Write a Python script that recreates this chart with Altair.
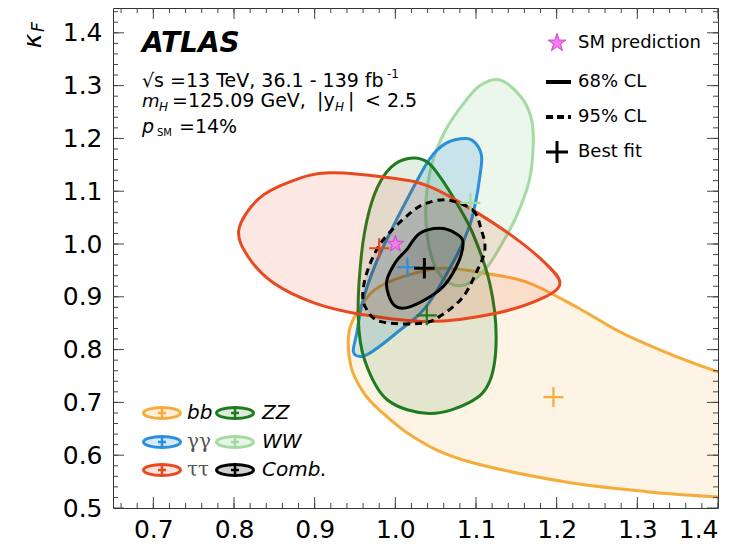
import altair as alt
import pandas as pd

# ---------------- data ----------------
X_MAJOR = [0.7, 0.8, 0.9, 1.0, 1.1, 1.2, 1.3, 1.4]
Y_MAJOR = [0.5, 0.6, 0.7, 0.8, 0.9, 1.0, 1.1, 1.2, 1.3, 1.4]
X_MINOR = [round(0.66 + 0.02 * i, 2) for i in range(38)]
Y_MINOR = [round(0.52 + 0.02 * i, 2) for i in range(47)]

# contour points (kappa_V, kappa_F)
BB_X = [1.40, 1.291, 1.229, 1.166, 1.113, 1.063, 1.022, 0.980, 0.960, 0.943, 0.945, 0.960, 0.980, 1.022, 1.084, 1.208, 1.311, 1.40, 1.50, 1.60, 1.50]
BB_Y = [0.758, 0.824, 0.877, 0.926, 0.944, 0.954, 0.944, 0.919, 0.888, 0.837, 0.768, 0.720, 0.686, 0.635, 0.591, 0.550, 0.531, 0.521, 0.513, 0.60, 0.72]

WW_X = [1.129, 1.155, 1.168, 1.171, 1.166, 1.150, 1.130, 1.113, 1.090, 1.068, 1.050, 1.040, 1.038, 1.045, 1.062, 1.084, 1.105]
WW_Y = [1.311, 1.280, 1.241, 1.191, 1.120, 1.052, 0.995, 0.955, 0.925, 0.925, 0.955, 1.010, 1.080, 1.150, 1.215, 1.265, 1.300]

GG_X = [1.088, 1.100, 1.107, 1.104, 1.100, 1.092, 1.075, 1.038, 1.001, 0.972, 0.958, 0.948, 0.952, 0.960, 0.975, 0.993, 1.014, 1.042, 1.063]
GG_Y = [1.200, 1.190, 1.165, 1.120, 1.083, 1.034, 0.975, 0.881, 0.831, 0.797, 0.787, 0.796, 0.830, 0.894, 0.960, 1.020, 1.083, 1.160, 1.191]

ZZ_X = [1.022, 1.040, 1.055, 1.075, 1.096, 1.117, 1.125, 1.117, 1.092, 1.042, 0.990, 0.962, 0.954, 0.958, 0.968, 0.982, 1.000]
ZZ_Y = [1.163, 1.155, 1.128, 1.080, 1.020, 0.926, 0.824, 0.740, 0.700, 0.679, 0.705, 0.780, 0.862, 0.980, 1.065, 1.120, 1.152]

TT_X = [0.806, 0.830, 0.870, 0.918, 1.000, 1.042, 1.092, 1.146, 1.185, 1.204, 1.183, 1.125, 1.042, 0.960, 0.900, 0.850, 0.818]
TT_Y = [1.027, 1.085, 1.118, 1.135, 1.124, 1.109, 1.068, 1.014, 0.965, 0.926, 0.898, 0.869, 0.853, 0.866, 0.888, 0.925, 0.975]

C95_X = [1.067, 1.096, 1.106, 1.111, 1.100, 1.084, 1.060, 1.034, 0.982, 0.963, 0.960, 0.968, 0.985, 1.018, 1.040]
C95_Y = [1.083, 1.064, 1.030, 0.989, 0.945, 0.900, 0.868, 0.850, 0.853, 0.880, 0.913, 0.960, 1.008, 1.058, 1.078]

C68_X = [1.055, 1.075, 1.084, 1.075, 1.055, 1.018, 0.998, 0.989, 1.000, 1.014, 1.030]
C68_Y = [1.030, 1.020, 1.001, 0.955, 0.913, 0.881, 0.885, 0.926, 0.965, 0.989, 1.020]

# best-fit points
BF_NAMES = ["bb", "WW", "gg", "ZZ", "tt", "comb"]
BF_X = [1.196, 1.093, 1.015, 1.039, 0.980, 1.036]
BF_Y = [0.710, 1.078, 0.956, 0.865, 0.992, 0.954]
SM_X = [1.0]
SM_Y = [1.0]

# ---------------- styles ----------------
C_BB = "#F5AC3A"
C_WW = "#A3DBA3"
C_GG = "#2B8FDB"
C_ZZ = "#1E7B1E"
C_TT = "#E8491E"
C_CB = "#000000"
FONT = "DejaVu Sans"
STAR = ("M0,-1L0.225,-0.309L0.951,-0.309L0.363,0.118L0.588,0.809L0,0.382"
        "L-0.588,0.809L-0.363,0.118L-0.951,-0.309L-0.225,-0.309Z")
PLUS = "M-1,0L1,0M0,-1L0,1"
ELL = "M-1,0A1,0.3,0,1,0,1,0A1,0.3,0,1,0,-1,0Z"

W, H = 605, 500
XS = alt.Scale(domain=[0.65, 1.40], nice=False, zero=False)
YS = alt.Scale(domain=[0.5, 1.447], nice=False, zero=False)
X_AX = alt.Axis(values=X_MAJOR, format=".1f", ticks=False, domain=False, grid=False,
                labelFontSize=25, labelFont=FONT, labelColor="black", labelPadding=9, title=None)
Y_AX = alt.Axis(values=Y_MAJOR, format=".1f", ticks=False, domain=False, grid=False,
                labelFontSize=25, labelFont=FONT, labelColor="black", labelPadding=11, title=None)


def ex(f):
    return alt.X(f, scale=XS, axis=X_AX)


def ey(f):
    return alt.Y(f, scale=YS, axis=Y_AX)


layers = []


def contour(xs, ys, stroke, fill, fo, sw, dash=None):
    df = pd.DataFrame({"x": xs, "y": ys, "i": list(range(len(xs)))})
    kw = dict(interpolate="cardinal-closed", stroke=stroke, strokeWidth=sw, fill=fill,
              fillOpacity=fo, clip=True)
    if dash:
        kw["strokeDash"] = dash
    return alt.Chart(df).mark_line(**kw).encode(x=ex("x:Q"), y=ey("y:Q"), order="i:Q")


layers.append(contour(BB_X, BB_Y, C_BB, C_BB, 0.13, 3))
layers.append(contour(WW_X, WW_Y, C_WW, C_WW, 0.22, 3))
layers.append(contour(GG_X, GG_Y, C_GG, C_GG, 0.18, 3))
layers.append(contour(ZZ_X, ZZ_Y, C_ZZ, C_ZZ, 0.12, 3))
layers.append(contour(TT_X, TT_Y, C_TT, C_TT, 0.13, 3))
layers.append(contour(C95_X, C95_Y, C_CB, C_CB, 0.10, 3, [7, 5]))
layers.append(contour(C68_X, C68_Y, C_CB, C_CB, 0.14, 3))

bf_colors = {"bb": C_BB, "WW": C_WW, "gg": C_GG, "ZZ": C_ZZ, "tt": C_TT, "comb": C_CB}
for n, bx, by in zip(BF_NAMES, BF_X, BF_Y):
    df = pd.DataFrame({"x": [bx], "y": [by]})
    layers.append(
        alt.Chart(df).mark_point(shape=PLUS, filled=False, size=400 if n != "comb" else 420,
                                 stroke=bf_colors[n], strokeWidth=3 if n == "comb" else 2.2,
                                 opacity=1).encode(x=ex("x:Q"), y=ey("y:Q"))
    )

sm_df = pd.DataFrame({"x": SM_X, "y": SM_Y})
layers.append(
    alt.Chart(sm_df).mark_point(shape=STAR, filled=True, size=300, fill="#F07CF0",
                                stroke="#D63FD6", strokeWidth=1, opacity=1).encode(
        x=ex("x:Q"), y=ey("y:Q"))
)

# frame ticks
MAJ, MIN = 11, 5


def ticks(vals, length, side):
    df = pd.DataFrame({"v": vals})
    m = alt.Chart(df).mark_rule(color="#444", strokeWidth=1)
    if side == "bottom":
        return m.encode(x=ex("v:Q"), y=alt.value(H), y2=alt.value(H - length))
    if side == "top":
        return m.encode(x=ex("v:Q"), y=alt.value(0), y2=alt.value(length))
    if side == "left":
        return m.encode(y=ey("v:Q"), x=alt.value(0), x2=alt.value(length))
    return m.encode(y=ey("v:Q"), x=alt.value(W), x2=alt.value(W - length))


for side in ["bottom", "top"]:
    layers.append(ticks(X_MAJOR, MAJ, side))
    layers.append(ticks(X_MINOR, MIN, side))
for side in ["left", "right"]:
    layers.append(ticks(Y_MAJOR, MAJ, side))
    layers.append(ticks(Y_MINOR, MIN, side))


def txt(s, x, y, size=18, style="normal", weight="normal", font=FONT, align="left",
        baseline="alphabetic", color="black", angle=0):
    df = pd.DataFrame({"t": [s]})
    return alt.Chart(df).mark_text(align=align, baseline=baseline, fontSize=size, fontStyle=style,
                                   fontWeight=weight, font=font, color=color, angle=angle).encode(
        x=alt.value(x), y=alt.value(y), text="t:N")


# y title kappa_F
layers.append(txt("κ", -80, 33, size=25, style="italic", align="center", baseline="middle", angle=270))
layers.append(txt("F", -74, 19, size=17, style="italic", align="center", baseline="middle", angle=270))

# ATLAS label block
layers.append(txt("ATLAS", 29, 44, size=28, style="italic", weight="bold"))
layers.append(txt("√s =13 TeV, 36.1 - 139 fb", 29, 79, size=19))
layers.append(txt("-1", 274, 70, size=12))
layers.append(txt("m", 29, 99, size=18, style="italic"))
layers.append(txt("H", 46, 103, size=12, style="italic"))
layers.append(txt("=125.09 GeV,", 59, 99, size=19))
layers.append(txt("|y", 204, 99, size=19))
layers.append(txt("H", 222, 103, size=12, style="italic"))
layers.append(txt("|", 235, 99, size=19))
layers.append(txt("< 2.5", 252, 99, size=19))
layers.append(txt("p", 29, 125, size=19, style="italic"))
layers.append(txt("SM", 44, 128, size=10))
layers.append(txt("=14%", 66, 125, size=19))

# top-right legend
one = pd.DataFrame({"t": [0]})
layers.append(
    alt.Chart(one).mark_point(shape=STAR, filled=True, size=360, fill="#F07CF0",
                              stroke="#D63FD6", strokeWidth=1, opacity=1).encode(
        x=alt.value(444), y=alt.value(35))
)
layers.append(txt("SM prediction", 465, 35, baseline="middle"))
layers.append(
    alt.Chart(one).mark_rule(color="black", strokeWidth=4).encode(
        x=alt.value(433), x2=alt.value(458), y=alt.value(74))
)
layers.append(txt("68% CL", 465, 74, baseline="middle"))
layers.append(
    alt.Chart(one).mark_rule(color="black", strokeWidth=4, strokeDash=[7, 4]).encode(
        x=alt.value(433), x2=alt.value(458), y=alt.value(109))
)
layers.append(txt("95% CL", 465, 109, baseline="middle"))
layers.append(
    alt.Chart(one).mark_point(shape=PLUS, filled=False, size=484, stroke="black",
                              strokeWidth=3, opacity=1).encode(
        x=alt.value(444), y=alt.value(144))
)
layers.append(txt("Best fit", 465, 144, baseline="middle"))

# bottom-left legend
LEG = [
    ("bb", C_BB, 0.18, 49, 405, 74, "italic", FONT, "black"),
    ("ZZ", C_ZZ, 0.15, 122, 405, 149, "italic", FONT, "black"),
    ("γγ", C_GG, 0.2, 49, 434, 74, "normal", "DejaVu Serif", "#555"),
    ("WW", C_WW, 0.25, 122, 434, 149, "italic", FONT, "black"),
    ("ττ", C_TT, 0.15, 49, 462, 74, "normal", "DejaVu Serif", "#555"),
    ("Comb.", C_CB, 0.18, 122, 462, 149, "italic", FONT, "black"),
]
for lab, col, fo, cx, cy, tx, st, fnt, tc in LEG:
    layers.append(
        alt.Chart(one).mark_point(shape=ELL, filled=True, size=1369, fill=col, fillOpacity=fo,
                                  stroke=col, strokeWidth=3, strokeOpacity=1).encode(
            x=alt.value(cx), y=alt.value(cy))
    )
    layers.append(
        alt.Chart(one).mark_point(shape=PLUS, filled=False, size=64, stroke=col, strokeWidth=2.5,
                                  opacity=1).encode(x=alt.value(cx), y=alt.value(cy))
    )
    layers.append(txt(lab, tx, cy, size=20, style=st, font=fnt, color=tc, baseline="middle"))

chart = alt.layer(*layers).properties(
    width=W, height=H,
    autosize=alt.AutoSizeParams(type="none"),
    padding={"left": 105, "top": 0, "right": 23, "bottom": 38},
    background="white",
).configure_view(stroke="#333", strokeWidth=1)

chart.save("out.html", embed_options={"renderer": "svg", "actions": False})
